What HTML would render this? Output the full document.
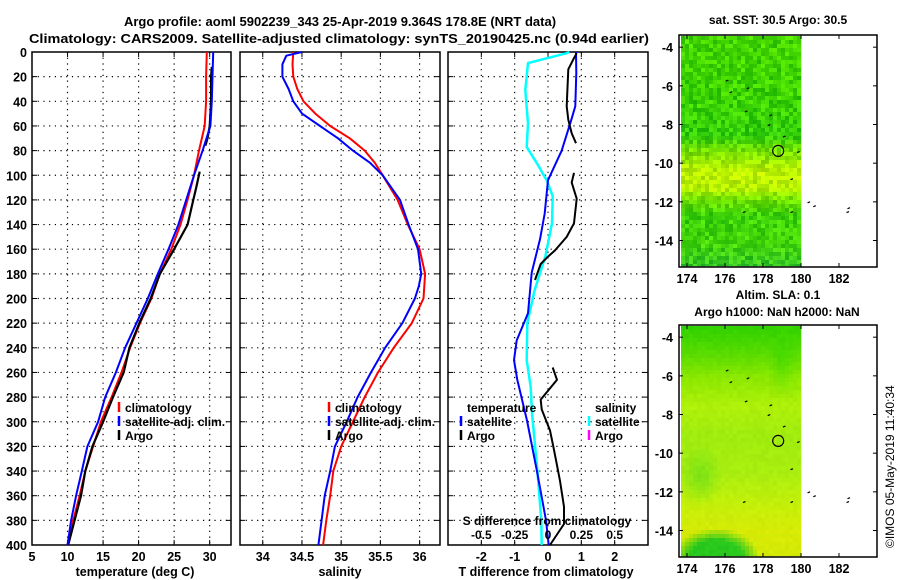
<!DOCTYPE html>
<html><head><meta charset="utf-8">
<style>
html,body{margin:0;padding:0;background:#fff;}
svg{display:block;font-family:"Liberation Sans",Arial,sans-serif;font-weight:bold;}
</style></head>
<body>
<svg id="fig" width="900" height="580" viewBox="0 0 900 580" xmlns="http://www.w3.org/2000/svg">
<text x="340" y="26" font-size="13" text-anchor="middle">Argo profile: aoml 5902239_343 25-Apr-2019 9.364S 178.8E (NRT data)</text>
<text x="339" y="43" font-size="13" text-anchor="middle" textLength="620" lengthAdjust="spacingAndGlyphs">Climatology: CARS2009. Satellite-adjusted climatology: synTS_20190425.nc (0.94d earlier)</text>
<text transform="translate(894,548) rotate(-90)" font-size="12" font-weight="normal">©IMOS 05-May-2019 11:40:34</text>
</svg>
<script>
// ---------- data ----------
const depthTicks = [0,20,40,60,80,100,120,140,160,180,200,220,240,260,280,300,320,340,360,380,400];
const tempTicks = [5,10,15,20,25,30];
const salTicks = [34,34.5,35,35.5,36];
const salTickLabels = ["34","34.5","35","35.5","36"];
const tdiffTicks = [-2,-1,0,1,2];
const sdiffTicks = [-0.5,-0.25,0,0.25,0.5];
const sdiffTickLabels = ["-0.5","-0.25","0","0.25","0.5"];

const climTempDepth = [0,20,40,60,80,100,120,140,160,180,200,220,240,260,280,300,320,340,360,380,400];
const climTemp      = [29.6,29.5,29.5,29.3,28.5,27.8,26.9,25.9,24.6,23.0,21.8,20.2,18.8,17.6,16.2,14.7,13.6,12.5,11.7,10.8,10.1];
const satTempDepth  = [0,20,40,60,80,100,120,140,160,180,200,220,240,260,280,300,320,340,360,380,400];
const satTemp       = [30.5,30.4,30.3,30.1,29.0,27.8,26.7,25.6,24.2,22.7,21.3,19.7,18.1,16.8,15.3,14.3,12.8,12.0,11.2,10.5,10.0];
const argoTempDepth1 = [12,20,40,60,70,76];
const argoTemp1      = [30.3,30.2,30.2,30.0,29.7,29.4];
const argoTempDepth2 = [97,110,120,140,160,180,200,220,240,260,280,300,320,340,360,380,400];
const argoTemp2      = [28.6,28.1,27.7,26.9,25.0,23.0,21.7,20.1,18.7,17.9,16.4,15.0,13.5,12.5,11.9,11.0,10.1];

const climSalDepth = [0,10,20,30,40,50,60,70,80,90,100,120,140,160,180,190,200,220,240,260,280,300,320,340,360,380,400];
const climSal      = [34.39,34.38,34.39,34.44,34.52,34.67,34.86,35.11,35.30,35.43,35.53,35.72,35.85,36.00,36.07,36.06,36.05,35.90,35.67,35.47,35.30,35.15,35.00,34.90,34.86,34.81,34.77];
const satSalDepth  = [0,3,10,20,30,40,50,60,70,80,90,100,120,140,160,180,190,200,220,240,260,280,300,320,340,360,380,400];
const satSal       = [34.50,34.30,34.25,34.25,34.33,34.39,34.50,34.73,34.96,35.15,35.37,35.53,35.75,35.86,35.98,36.02,35.99,35.94,35.78,35.56,35.38,35.21,35.07,34.92,34.86,34.79,34.75,34.71];

const tDiffSatDepth = [0,17,44,55,80,104,131,152,179,212,234,250,266,299,339,380,400];
const tDiffSat      = [0.84,0.85,0.82,0.70,0.41,0.0,-0.10,-0.24,-0.49,-0.60,-0.94,-1.02,-0.92,-0.63,-0.34,-0.06,0.02];
const sDiffSatDepth = [0,1,9,31,58,77,90,104,117,139,166,193,220,250,272,293,339,380,400];
const sDiffSat      = [0.16,0.14,-0.15,-0.17,-0.15,-0.16,-0.085,-0.01,0.035,0.03,-0.02,-0.10,-0.155,-0.16,-0.13,-0.12,-0.08,-0.05,-0.047];
const tDiffArgoDepth1 = [1,6,14,44,55,66,74];
const tDiffArgo1      = [0.86,0.76,0.61,0.56,0.61,0.71,0.84];
const tDiffArgoDepth2 = [98,106,119,139,150,161,166,172,185];
const tDiffArgo2      = [0.78,0.71,0.86,0.78,0.56,0.21,0.0,-0.22,-0.39];
const tDiffArgoDepth3 = [256,266,282,290,307,320,334,348,369,383,400];
const tDiffArgo3      = [0.14,0.27,-0.22,-0.19,0.06,0.16,0.26,0.36,0.48,0.48,0.06];

const lonTicks = [174,176,178,180,182];
const latTicks = [-4,-6,-8,-10,-12,-14];
const floatLon = 178.8, floatLat = -9.364;
const islandLon = [176.1,176.3,177.2,177.1,178.4,178.3,179.1,179.85,179.5,177.0,179.5,180.4,180.7,182.5,182.45];
const islandLat = [-5.7,-6.3,-6.1,-7.3,-7.5,-8.0,-8.6,-9.4,-10.8,-12.5,-12.5,-12.0,-12.2,-12.3,-12.5];

// ---------- helpers ----------
const NS = "http://www.w3.org/2000/svg";
const svg = document.getElementById('fig');
function mk(tag, attrs, parent){ const e=document.createElementNS(NS,tag); for(const k in attrs) e.setAttribute(k,attrs[k]); (parent||svg).appendChild(e); return e; }
function txt(s, x, y, size, anchor, parent){ const t=mk('text',{x:x,y:y,'font-size':size,'text-anchor':anchor||'middle'},parent); t.textContent=s; return t; }

const Y0=52, Y1=545;
const yD = d => Y0 + d*(Y1-Y0)/400;

function panel(name, x0, x1, vmin, vmax){
  const g = mk('g',{});
  
  
  const sx = v => x0 + (v-vmin)*(x1-x0)/(vmax-vmin);
  return {g, sx, x0, x1};
}
function frame(p, xticks, xlabels, ylabels){
  const g=p.g;
  depthTicks.forEach(d=>{
    if(d>0 && d<400){ mk('line',{x1:p.x0,x2:p.x1,y1:yD(d),y2:yD(d),stroke:'#000','stroke-width':1.2,'stroke-dasharray':'1.2,4.5'},g); }
    mk('line',{x1:p.x0,x2:p.x0+5,y1:yD(d),y2:yD(d),stroke:'#000'},g);
    mk('line',{x1:p.x1-5,x2:p.x1,y1:yD(d),y2:yD(d),stroke:'#000'},g);
    if(ylabels){ const t=txt(String(d),27,yD(d)+5,12.5,'end',g);
        }
  });
  xticks.forEach((v,i)=>{
    const x=p.sx(v);
    if(x>p.x0+1 && x<p.x1-1) mk('line',{x1:x,x2:x,y1:Y0,y2:Y1,stroke:'#000','stroke-width':1.2,'stroke-dasharray':'1.2,4.5'},g);
    mk('line',{x1:x,x2:x,y1:Y1,y2:Y1-5,stroke:'#000'},g);
    mk('line',{x1:x,x2:x,y1:Y0,y2:Y0+5,stroke:'#000'},g);
    const t=txt(xlabels[i],x,561,12.5,'middle',g);
     
  });
  mk('rect',{x:p.x0,y:Y0,width:p.x1-p.x0,height:Y1-Y0,fill:'none',stroke:'#000','stroke-width':1.5},g);
}
function line(p, sx, depths, vals, color, w, name){
  const pts = depths.map((d,i)=> sx(vals[i]).toFixed(1)+','+yD(d).toFixed(1)).join(' ');
  const l = mk('polyline',{points:pts,fill:'none',stroke:color,'stroke-width':w,'stroke-linejoin':'round'},p.g);
  
  
}
function legend(g, x, y, color, label){
  mk('line',{x1:x,x2:x,y1:y-10,y2:y,stroke:color,'stroke-width':2.5},g);
  const t=txt(label,x+6,y,12,'start',g);
   
}

// ---------- temperature panel ----------
const pT = panel('temperature-panel',32,231,5,33);
frame(pT, tempTicks, tempTicks.map(String), true);
line(pT,pT.sx,climTempDepth,climTemp,'#ff0000',2,'climatology-temp-line');
line(pT,pT.sx,argoTempDepth1,argoTemp1,'#000',2.2,'argo-temp-line-upper');
line(pT,pT.sx,argoTempDepth2,argoTemp2,'#000',2.2,'argo-temp-line-lower');
line(pT,pT.sx,satTempDepth,satTemp,'#0000ff',2,'satellite-temp-line');
legend(pT.g,119,412,'#ff0000','climatology');
legend(pT.g,119,426,'#0000ff','satellite-adj. clim.');
legend(pT.g,119,440,'#000','Argo');
{const t=txt('temperature (deg C)',135,576,12.5,'middle',pT.g);  }

// ---------- salinity panel ----------
const pS = panel('salinity-panel',240,440,33.71,36.26);
frame(pS, salTicks, salTickLabels, false);
line(pS,pS.sx,climSalDepth,climSal,'#ff0000',2,'climatology-salinity-line');
line(pS,pS.sx,satSalDepth,satSal,'#0000ff',2,'satellite-salinity-line');
legend(pS.g,329,412,'#ff0000','climatology');
legend(pS.g,329,426,'#0000ff','satellite-adj. clim.');
legend(pS.g,329,440,'#000','Argo');
{const t=txt('salinity',340,576,12.5,'middle',pS.g);  }

// ---------- difference panel ----------
const pD = panel('difference-panel',448,648,-3,3);
const sxS = v => 548 + v*(648-448)/1.5;
frame(pD, tdiffTicks, tdiffTicks.map(String), false);
line(pD,sxS,sDiffSatDepth,sDiffSat,'#00ffff',2.5,'salinity-satellite-diff-line');
line(pD,pD.sx,tDiffSatDepth,tDiffSat,'#0000ff',2,'temperature-satellite-diff-line');
line(pD,pD.sx,tDiffArgoDepth1,tDiffArgo1,'#000',2,'temperature-argo-diff-line-1');
line(pD,pD.sx,tDiffArgoDepth2,tDiffArgo2,'#000',2,'temperature-argo-diff-line-2');
line(pD,pD.sx,tDiffArgoDepth3,tDiffArgo3,'#000',2,'temperature-argo-diff-line-3');
{const t=txt('temperature',467,412,12,'start',pD.g);  }
legend(pD.g,461,426,'#0000ff','satellite');
legend(pD.g,461,440,'#000','Argo');
{const t=txt('salinity',595,412,12,'start',pD.g);  }
legend(pD.g,589,426,'#00ffff','satellite');
legend(pD.g,589,440,'#ff00ff','Argo');
{const t=txt('S difference from climatology',547,525,12,'middle',pD.g);  }
sdiffTicks.forEach((v,i)=>{const t=txt(sdiffTickLabels[i],sxS(v),539,12,'middle',pD.g);  });
{const t=txt('T difference from climatology',546,576,12.5,'middle',pD.g);  }

// ---------- maps ----------
function hash(i,j,s){ let h=(i*374761393 + j*668265263 + s*982451653)|0; h=(h^(h>>>13))*1274126177|0; return ((h^(h>>>16))>>>0)/4294967296; }
function mix(a,b,t){ t=Math.max(0,Math.min(1,t)); return a.map((v,k)=>Math.round(v+(b[k]-v)*t)); }
function stops(la, lats, cols){
  if(la>=lats[0]) return cols[0];
  for(let k=1;k<lats.length;k++){ if(la>=lats[k]) return mix(cols[k-1],cols[k],(lats[k-1]-la)/(lats[k-1]-lats[k])); }
  return cols[cols.length-1];
}
function map(name, top, title1, title2, colorFn, cell, noise){
  const g = mk('g',{});
  
  
  const x0=679,x1=877,y1=top+232;
  const lonMin=173.58,lonMax=184.0,latMax=-3.37,latMin=-15.37;
  const sx = lo => x0+(lo-lonMin)*(x1-x0)/(lonMax-lonMin);
  const sy = la => top+(latMax-la)*(y1-top)/(latMax-latMin);
  const xe = sx(180);
  for(let y=top+1,j=0;y<y1-1;y+=cell,j++){
    for(let x=x0+2,i=0;x<xe;x+=cell,i++){
      const lo=lonMin+(x-x0)/(x1-x0)*(lonMax-lonMin), la=latMax-(y-top)/(y1-top)*(latMax-latMin);
      let c=colorFn(lo,la);
      const n=(hash(i,j,7)-0.5)*noise;
      c=c.map((v,k)=>Math.max(0,Math.min(255,Math.round(v+n*(k===2?0.2:1)))));
      mk('rect',{x:x,y:y,width:Math.min(cell,xe-x)+0.3,height:Math.min(cell,y1-1-y)+0.3,fill:'rgb('+c.join(',')+')'},g);
    }
  }
  mk('rect',{x:x0,y:top,width:x1-x0,height:y1-top,fill:'none',stroke:'#000','stroke-width':1.5},g);
  lonTicks.forEach(lo=>{
    mk('line',{x1:sx(lo),x2:sx(lo),y1:y1,y2:y1-4,stroke:'#000'},g);
    mk('line',{x1:sx(lo),x2:sx(lo),y1:top,y2:top+4,stroke:'#000'},g);
    const t=txt(String(lo),sx(lo),y1+16,12.5,'middle',g);  
  });
  latTicks.forEach(la=>{
    mk('line',{x1:x0,x2:x0+4,y1:sy(la),y2:sy(la),stroke:'#000'},g);
    mk('line',{x1:x1-4,x2:x1,y1:sy(la),y2:sy(la),stroke:'#000'},g);
    const t=txt(String(la),673,sy(la)+5,12.5,'end',g);  
  });
  islandLon.forEach((lo,i)=>{ mk('line',{x1:sx(lo)-1,x2:sx(lo)+1.5,y1:sy(islandLat[i])+1,y2:sy(islandLat[i]),stroke:'#000','stroke-width':1.2},g); });
  const c=mk('circle',{cx:sx(floatLon),cy:sy(floatLat),r:5.5,fill:'none',stroke:'#000','stroke-width':1.2},g);
   
  title1 && (()=>{const t=txt(title1,778,top-(title2?26:11),12,'middle',g);  })();
  title2 && (()=>{const t=txt(title2,777,top-9,12,'middle',g);  })();
}
map('sst-map',35,'sat. SST: 30.5 Argo: 30.5',null,(lo,la)=>{
  return stops(la,[-3.4,-6,-8.5,-9.3,-10.3,-11.2,-11.8,-12.6,-14,-15.4],
    [[70,215,0],[60,210,0],[50,205,10],[120,225,0],[190,245,0],[185,245,0],[110,225,0],[60,210,10],[70,215,10],[50,195,40]]);
},4,60);
map('sla-map',325,'Altim. SLA: 0.1','Argo h1000: NaN h2000: NaN',(lo,la)=>{
  let c = stops(la,[-3.4,-4.8,-6,-7.5,-9,-11,-12.5,-14,-15.4],
    [[50,210,0],[90,220,0],[140,232,0],[175,240,10],[160,236,15],[170,238,15],[195,240,10],[215,235,5],[210,232,5]]);
  if(lo>178.2 && lo<179.6 && la>-7) c=mix(c,[60,215,0],0.7*(1-Math.abs(lo-178.9)/0.7)*Math.min(1,(la+7)/2));
  const dl=Math.hypot((lo-174.6)/1.2,(la+11)/1.6);
  if(dl<1) c=mix(c,[130,228,20],(1-dl)*1.2);
  const d=Math.hypot((lo-175.4)/2.3,(la+15.3)/1.5);
  if(d<1) c=mix(c,[40,200,30],Math.min(1,(1-d)*2.5));
  return c;
},4,8);
</script>
</body></html>
